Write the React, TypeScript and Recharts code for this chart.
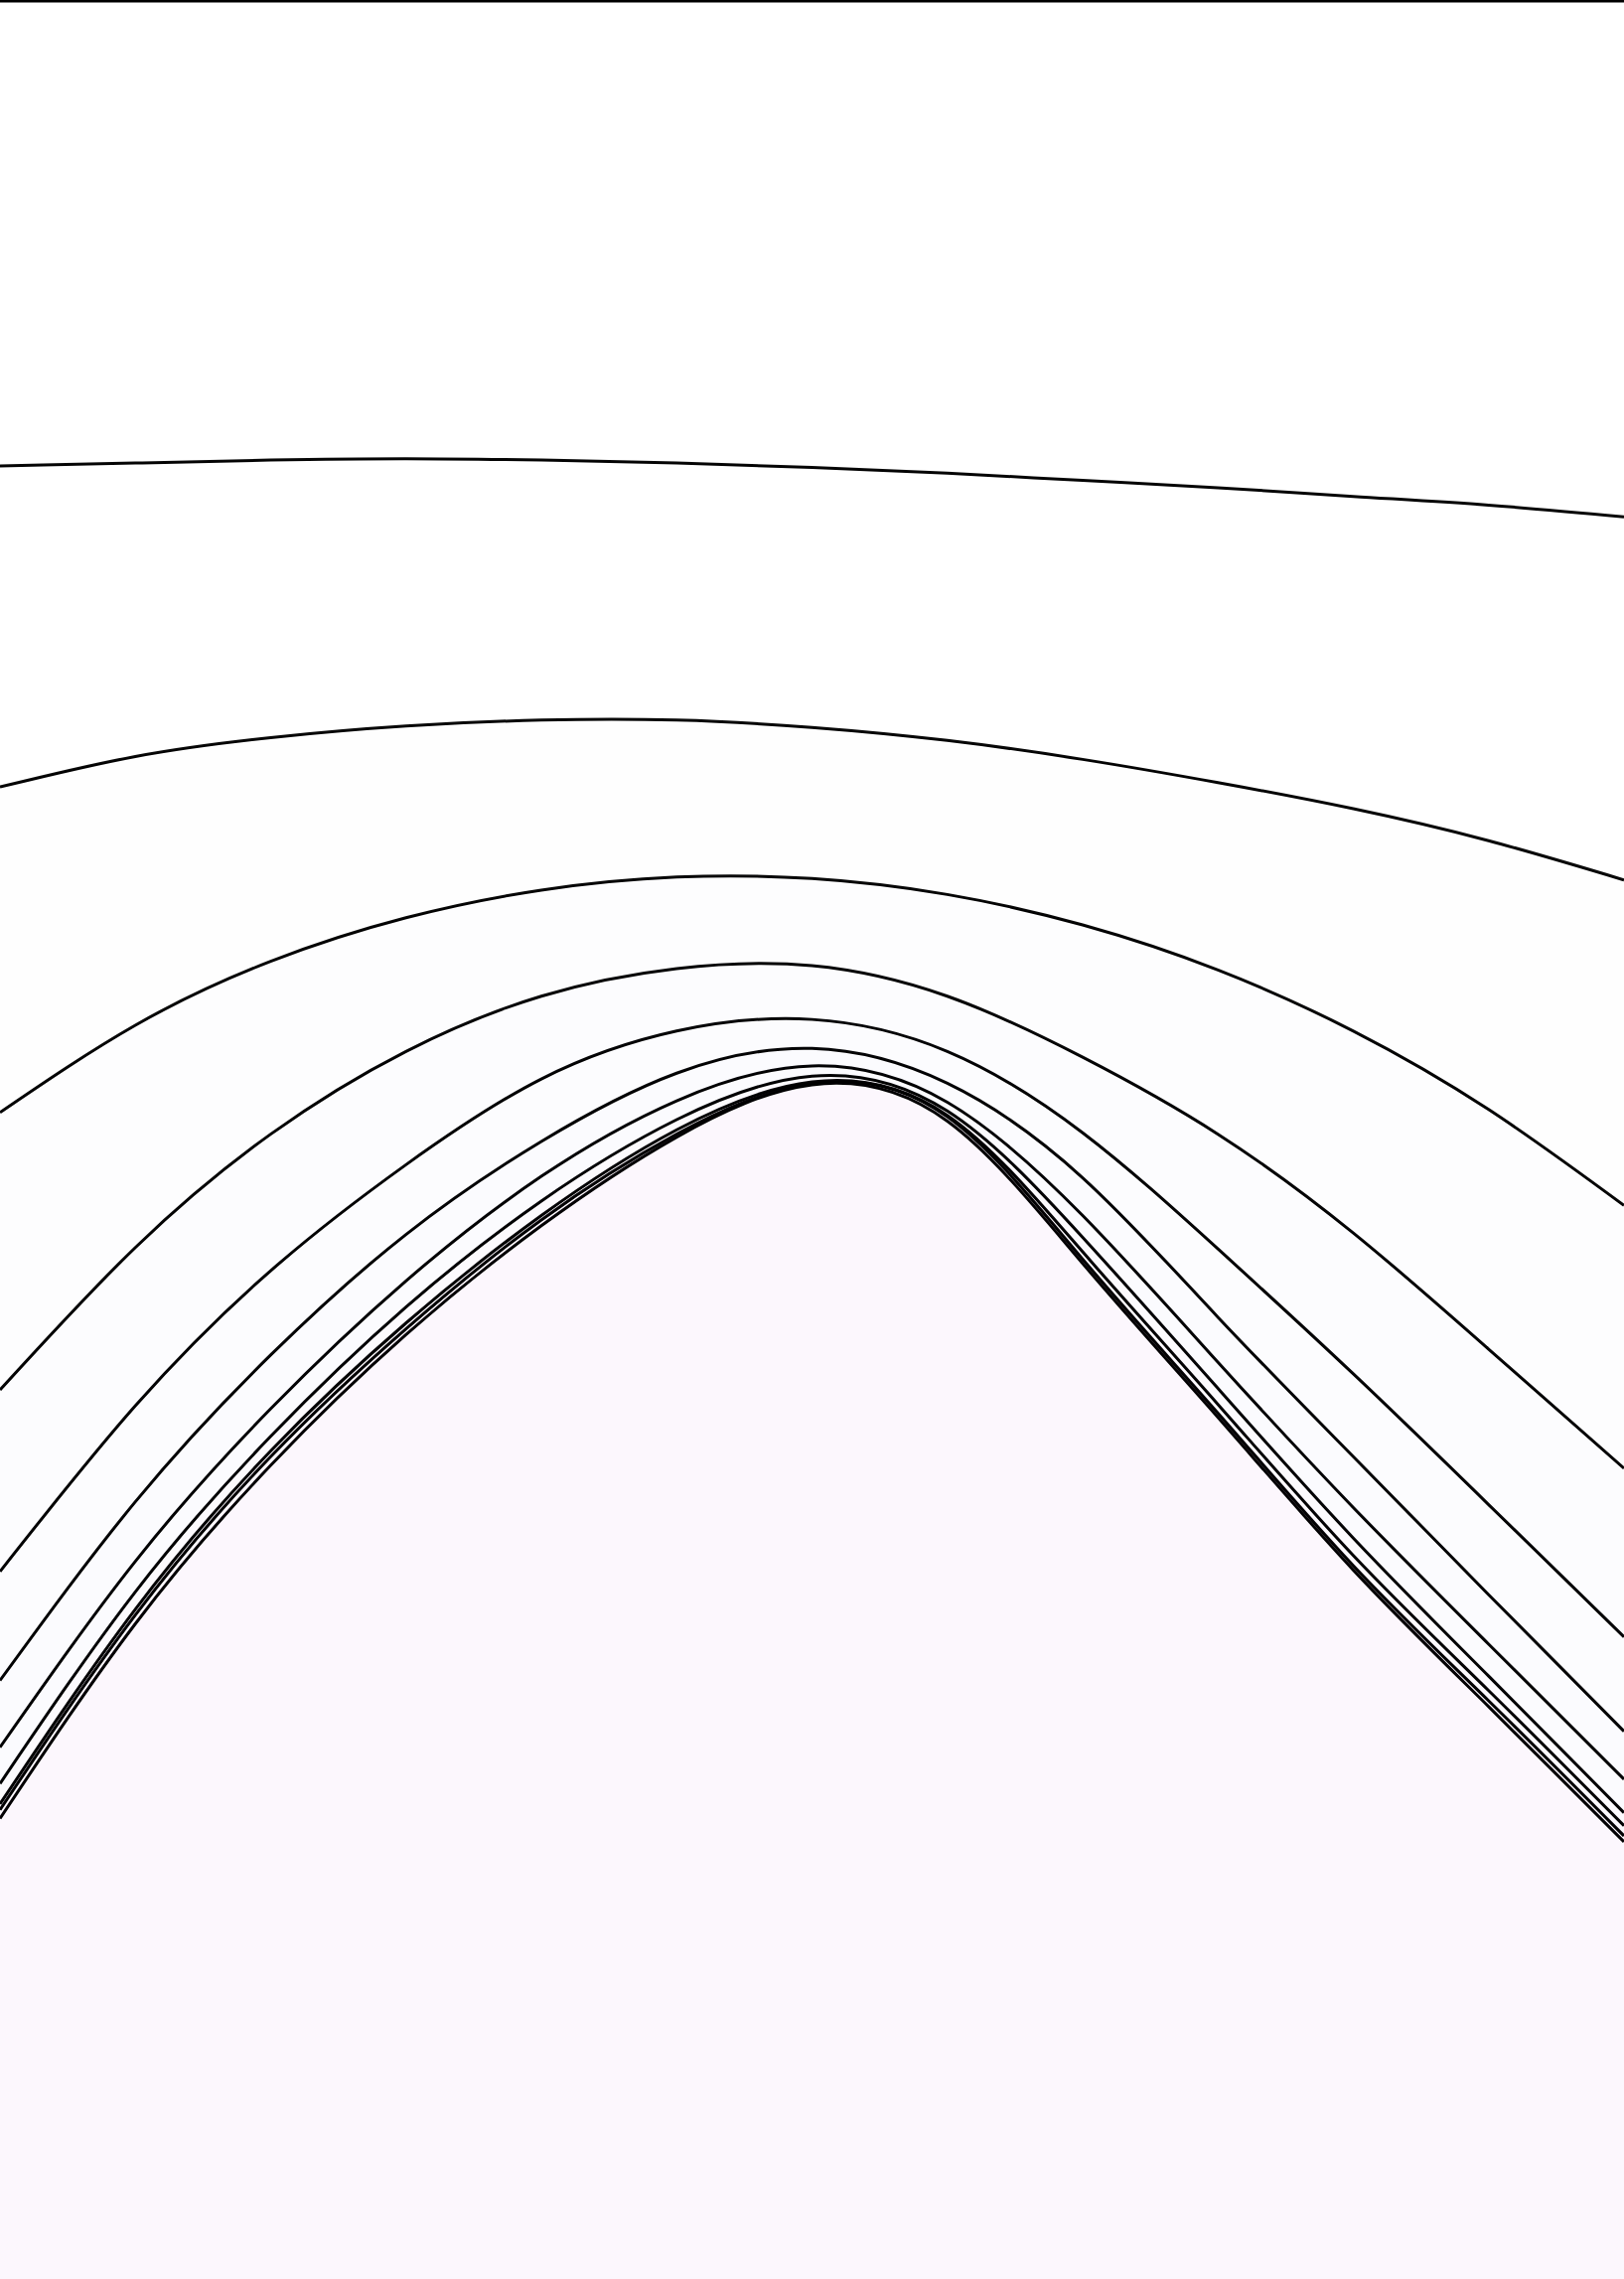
import React from 'react';
import { AreaChart, Area, XAxis, YAxis } from 'recharts';

// sample positions across the chart (left edge to right edge)
const steps = ['s1', 's2', 's3', 's4', 's5', 's6', 's7', 's8', 's9', 's10', 's11', 's12', 's13'];

// layer thicknesses, bottom layer first (each column sums to the same total)
const layer0 = [317, 451, 560, 650, 725, 786, 822, 797, 699, 593, 488, 394, 301];
const layer1 = [6, 6, 6, 4, 4, 2, 1, 3, 3, 3, 3, 4, 4];
const layer2 = [4, 4, 4, 4, 3, 3, 1, 1, 5, 6, 7, 7, 7];
const layer3 = [14, 12, 10, 11, 10, 7, 4, 3, 10, 11, 12, 10, 9];
const layer4 = [25, 21, 19, 18, 17, 13, 7, 6, 15, 18, 21, 22, 23];
const layer5 = [46, 41, 37, 32, 24, 19, 12, 13, 26, 31, 35, 34, 33];
const layer6 = [75, 66, 58, 48, 43, 29, 20, 22, 31, 47, 57, 62, 65];
const layer7 = [125, 109, 94, 78, 57, 43, 37, 38, 52, 79, 97, 107, 116];
const layer8 = [191, 153, 119, 92, 73, 63, 60, 70, 91, 113, 139, 165, 181];
const layer9 = [224, 185, 154, 132, 117, 108, 104, 106, 114, 129, 153, 185, 224];
const layer10 = [221, 202, 191, 184, 179, 177, 179, 184, 192, 203, 215, 231, 250];
const layer11 = [320, 318, 316, 315, 316, 318, 321, 325, 330, 335, 341, 347, 355];

const layers = [layer0, layer1, layer2, layer3, layer4, layer5, layer6, layer7, layer8, layer9, layer10, layer11];

// faint tints: strong hue at low opacity so the black outlines stay on top
const colors = [
  '#b437cd', '#b450cd', '#b469cd', '#b482cd', '#9b9be6', '#9b9be6',
  '#b4b4e6', '#b4b4e6', '#cdcde6', '#e6e6e6', '#ffffff', '#ffffff',
];

const data = steps.map((step, i) => {
  const row: Record<string, number | string> = { step };
  layers.forEach((l, k) => {
    row[`layer${k}`] = l[i];
  });
  return row;
});

export default function App() {
  return (
    <div style={{ position: 'absolute', top: 0, left: 0, background: '#fff' }}>
      <AreaChart
        width={1635}
        height={2294}
        data={data}
        stackOffset="expand"
        margin={{ top: 1, right: 0, bottom: 0, left: 0 }}
      >
        <XAxis dataKey="step" hide />
        <YAxis hide />
        {layers.map((_, k) => (
          <Area
            key={k}
            type="natural"
            dataKey={`layer${k}`}
            stackId="1"
            stroke="#000"
            strokeWidth={3}
            fill={colors[k]}
            fillOpacity={0.04}
            dot={false}
            activeDot={false}
            isAnimationActive={false}
          />
        ))}
      </AreaChart>
    </div>
  );
}
